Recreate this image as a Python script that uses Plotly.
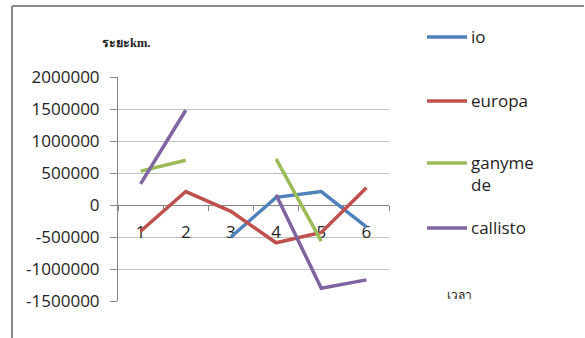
import plotly.graph_objects as go

# Time steps (categories) and distance values in km
time_steps = ["1", "2", "3", "4", "5", "6"]
io = [None, None, -500000, 120000, 210000, -340000]
europa = [-410000, 210000, -100000, -590000, -430000, 270000]
ganymede = [530000, 700000, None, 720000, -565000, None]
callisto = [330000, 1480000, None, 160000, -1300000, -1170000]

series_names = ["io", "europa", "ganymede", "callisto"]
legend_labels = ["io", "europa", "ganyme<br>de", "callisto"]
series_colors = ["#4F81BD", "#C0504D", "#9BBB59", "#8064A2"]

y_tick_vals = [2000000, 1500000, 1000000, 500000, 0, -500000, -1000000, -1500000]
y_tick_text = [str(v) for v in y_tick_vals]

y_title = "ระยะkm."
x_title = "เวลา"

W, H = 585, 338
ML, MR, MT, MB = 118, 196, 77, 37
PW, PH = W - ML - MR, H - MT - MB


def fx(px):
    return (px - ML) / PW


def fy(py):
    return (H - MB - py) / PH


FONT = "Open Sans"
TEXT = "#1E1E1E"
AXIS = "#868686"
GRID = "#BFBFBF"

fig = go.Figure()
for name, vals, color in zip(series_names, [io, europa, ganymede, callisto], series_colors):
    fig.add_trace(go.Scatter(
        x=time_steps, y=vals, name=name, mode="lines",
        line=dict(color=color, width=3.5), connectgaps=False,
        showlegend=False,
    ))

y_min, y_max = min(y_tick_vals), max(y_tick_vals)
zero_pos = (0 - y_min) / (y_max - y_min)

fig.update_layout(
    width=W, height=H,
    margin=dict(l=ML, r=MR, t=MT, b=MB, pad=0),
    paper_bgcolor="white", plot_bgcolor="white",
    font=dict(family=FONT, size=17, color=TEXT),
    xaxis=dict(
        type="category", anchor="free", position=zero_pos,
        range=[-0.5, len(time_steps) - 0.5],
        showline=True, linecolor=AXIS, linewidth=1,
        ticks="outside", tickson="boundaries", ticklen=5, tickcolor=AXIS,
        showgrid=False, zeroline=False, layer="below traces",
        ticklabelstandoff=12,
        tickfont=dict(family=FONT, size=17, color=TEXT),
    ),
    yaxis=dict(
        range=[y_min, y_max], domain=[0, 1],
        tickvals=y_tick_vals, ticktext=y_tick_text,
        showline=True, linecolor=AXIS, linewidth=1,
        ticks="outside", ticklen=7, tickcolor=AXIS,
        showgrid=True, gridcolor=GRID, gridwidth=1,
        zeroline=False, layer="below traces",
        ticklabelstandoff=7,
        tickfont=dict(family=FONT, size=17, color=TEXT),
    ),
    showlegend=False,
)

shapes = [
    # outer chart frame (top and left edges)
    dict(type="line", xref="paper", yref="paper", x0=fx(12), x1=fx(584), y0=fy(6), y1=fy(6),
         line=dict(color="#8A8A8A", width=2)),
    dict(type="line", xref="paper", yref="paper", x0=fx(12), x1=fx(12), y0=fy(6), y1=fy(338),
         line=dict(color="#8A8A8A", width=2)),
]
annotations = [
    dict(text="<b>" + y_title + "</b>", xref="paper", yref="paper", x=fx(126), y=fy(43),
         showarrow=False, xanchor="center", yanchor="middle",
         font=dict(family="Liberation Serif", size=12.5, color=TEXT)),
    dict(text=x_title, xref="paper", yref="paper", x=fx(459), y=fy(295),
         showarrow=False, xanchor="center", yanchor="middle",
         font=dict(family="Liberation Serif", size=12, color=TEXT)),
]

# legend: line sample followed by the series label
legend_rows = [37, 101, 163, 228]
for label, color, row in zip(legend_labels, series_colors, legend_rows):
    shapes.append(dict(type="line", xref="paper", yref="paper",
                       x0=fx(427), x1=fx(467), y0=fy(row), y1=fy(row),
                       line=dict(color=color, width=3.5)))
    annotations.append(dict(text=label, xref="paper", yref="paper",
                            x=fx(469), y=fy(row - 14), showarrow=False,
                            xanchor="left", yanchor="top", align="left",
                            font=dict(family=FONT, size=17, color=TEXT)))

fig.update_layout(shapes=shapes, annotations=annotations)
fig.write_html("out.html")
